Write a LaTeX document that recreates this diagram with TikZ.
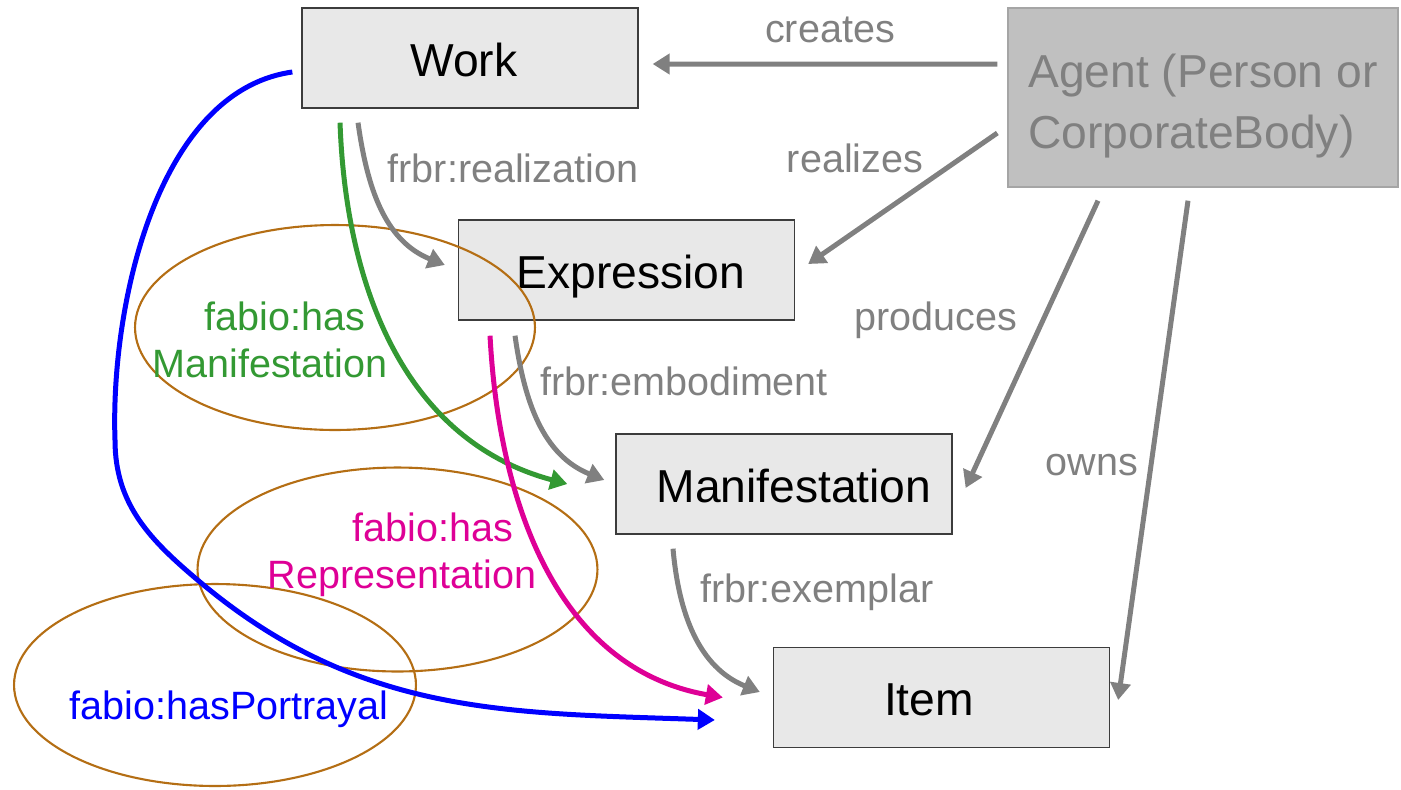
\documentclass[tikz,border=0pt]{standalone}
\usepackage{fontspec}
\setmainfont{Liberation Sans}
\usetikzlibrary{arrows.meta, positioning}
\definecolor{boxfill}{RGB}{232,232,232}
\definecolor{boxline}{RGB}{60,60,60}
\definecolor{agentfill}{RGB}{192,192,192}
\definecolor{agentline}{RGB}{165,165,165}
\definecolor{relgray}{RGB}{128,128,128}
\definecolor{fabgreen}{RGB}{51,153,51}
\definecolor{fabpink}{RGB}{222,0,150}
\definecolor{fabblue}{RGB}{0,0,255}
\definecolor{halobrown}{RGB}{180,110,20}
\newcommand{\boxfont}{\fontsize{26.3pt}{34.6pt}\selectfont}
\newcommand{\lblfont}{\fontsize{22.5pt}{26.7pt}\selectfont}
\tikzset{
  box/.style={draw=boxline, fill=boxfill, line width=0.8pt, minimum width=6.72cm, minimum height=2cm, inner sep=0pt, text height=0.92cm, text depth=0.2cm, font=\boxfont},
  agentbox/.style={draw=agentline, fill=agentfill, line width=0.8pt, minimum width=7.8cm, minimum height=3.58cm, inner sep=0pt, text=relgray, align=left, font=\boxfont},
  rel/.style={draw=relgray, line width=0.1cm, -{Triangle[length=0.34cm,width=0.4cm]}},
  fab/.style={line width=0.1cm, -{Triangle[length=0.34cm,width=0.4cm]}},
  lbl/.style={text=relgray, inner sep=0pt, font=\lblfont},
  halo/.style={draw=halobrown, line width=1.2pt}
}

\begin{document}
\begin{tikzpicture}[x=0.02cm, y=-0.02cm]
  \useasboundingbox (0,0) rectangle (1401,789);

  % classes
  \node[box] (work) at (470,58) {Work\hspace*{0.24cm}};
  \node[box] (expr) at (626.5,270) {\hspace*{0.18cm}Expression};
  \node[box] (manif) at (784,484) {\hspace*{0.4cm}Manifestation};
  \node[box] (item) at (941.5,697.5) {Item\hspace*{0.5cm}};
  \node[agentbox] (agent) at (1203,97.5) {\rule{0pt}{1cm}Agent (Person or\\CorporateBody)};

  % fabio groups
  \draw[halo] (335,327.5) ellipse [x radius=4cm, y radius=2.05cm];
  \draw[halo] (397.5,569.5) ellipse [x radius=4cm, y radius=2.04cm];
  \draw[halo] (215,685) ellipse [x radius=4.02cm, y radius=2.02cm];

  % agent relations
  \draw[rel] ([xshift=-0.2cm,yshift=0.67cm]agent.west) -- ([xshift=0.28cm,yshift=-0.12cm]work.east);
  \draw[rel] ([xshift=-0.2cm,yshift=-0.71cm]agent.west) -- ([xshift=0.26cm,yshift=0.12cm]expr.east);
  \draw[rel] ([xshift=-2.1cm,yshift=-0.26cm]agent.south) -- ([xshift=0.26cm,yshift=-0.08cm]manif.east);
  \draw[rel] ([xshift=-0.3cm,yshift=-0.26cm]agent.south) -- ([xshift=0.16cm,yshift=-0.05cm]item.east);

  % frbr chain
  \draw[rel] ([xshift=-2.24cm,yshift=-0.28cm]work.south) to[out=-82,in=158] ([xshift=-0.26cm,yshift=0.1cm]expr.west);
  \draw[rel] ([xshift=-2.23cm,yshift=-0.3cm]expr.south) to[out=-82,in=158] ([xshift=-0.22cm,yshift=0.08cm]manif.west);
  \draw[rel] ([xshift=-2.22cm,yshift=-0.28cm]manif.south) to[out=-85,in=158] ([xshift=-0.26cm,yshift=0.11cm]item.west);

  % fabio shortcuts
  \coordinate (bend) at (115,440);
  \coordinate (turn) at (200,582);
  \draw[fab, fabgreen] ([xshift=-2.6cm,yshift=-0.28cm]work.south) to[out=-88,in=165] ([xshift=-0.96cm]manif.west);
  \draw[fab, fabpink] ([xshift=-2.73cm,yshift=-0.3cm]expr.south) to[out=-87,in=170] ([xshift=-1cm]item.west);
  \draw[fab, fabblue] ([xshift=-0.18cm,yshift=-0.28cm]work.west) to[out=188,in=92,looseness=0.85] (bend)
    to[out=-90,in=140] (turn) to[out=-40,in=178] ([xshift=-1.16cm,yshift=-0.45cm]item.west);

  % labels
  \node[lbl] (creates) at (830,30) {creates};
  \node[lbl] (realizes) at (855,158) {realizes};
  \node[lbl] (produces) at (936,320) {produces};
  \node[lbl] (owns) at (1092,465) {owns};
  \node[lbl] (realization) at (513,168) {frbr:realization};
  \node[lbl] (embodiment) at (684,381) {frbr:embodiment};
  \node[lbl] (exemplar) at (817,592) {frbr:exemplar};
  \node[lbl, text=fabgreen, align=center] (hasmanif) at (270,340) {\hspace*{0.6cm}fabio:has\\Manifestation};
  \node[lbl, text=fabpink, align=center] (hasrep) at (402,555) {\hspace*{1.24cm}fabio:has\\Representation};
  \node[lbl, text=fabblue] (hasport) at (229,709) {fabio:hasPortrayal};
\end{tikzpicture}
\end{document}
